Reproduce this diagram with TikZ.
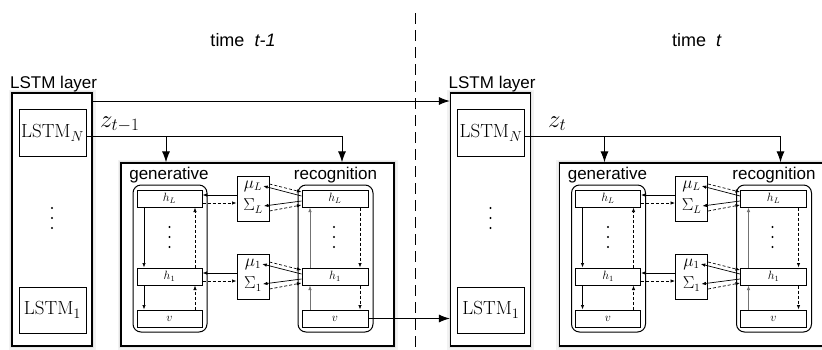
\documentclass[tikz,border=0pt]{standalone}
\usepackage{fontspec}
\newfontfamily\sans{Liberation Sans}
\usetikzlibrary{arrows.meta,calc}
\tikzset{
  lbl/.style={font=\sans\fontsize{17}{17}\selectfont, inner sep=0pt},
  halo/.style={preaction={draw=black,opacity=0.05,line width=7pt},
               preaction={draw=black,opacity=0.06,line width=3.5pt}},
  bigbox/.style={draw, line width=1.2pt, fill=white, inner sep=0pt},
  lstmbox/.style={draw, line width=1pt, fill=white, inner sep=0pt, minimum width=67pt, font=\fontsize{19}{19}\selectfont},
  hbox/.style={draw, line width=1pt, fill=white, inner sep=0pt, minimum height=17pt, font=\fontsize{11.5}{11.5}\selectfont},
  col/.style={draw, line width=1pt, rounded corners=8pt, inner sep=0pt, minimum width=74pt, minimum height=147pt},
  mbox/.style={draw, line width=1pt, fill=white, inner sep=0pt, minimum width=32pt, minimum height=45pt},
  msym/.style={inner sep=1pt, font=\fontsize{16}{16}\selectfont},
  ar/.style={-{Latex[length=4.5pt,width=3.5pt]}, line width=0.7pt},
  dar/.style={ar, dash pattern=on 3pt off 2pt},
  bigar/.style={-{Latex[length=11pt,width=8pt]}, line width=1pt},
  dotc/.style={fill=black, circle, inner sep=0pt, minimum size=2.4pt}
}
\begin{document}
\begin{tikzpicture}[x=1pt,y=-1pt]
\useasboundingbox (0,0) rectangle (822,349);
\clip (0,0) rectangle (822,349);

% time labels and divider
\node[lbl, font=\sans\fontsize{18}{18}\selectfont] (tlab1) at (243,40) {time~~\textit{t-1}};
\node[lbl, font=\sans\fontsize{18}{18}\selectfont] (tlab2) at (697,40) {time~~\textit{t}};
\coordinate (divtop) at (415,13);
\coordinate (divbot) at (415,349);
\draw[line width=1pt, dash pattern=on 11pt off 6pt] (divtop) -- (divbot);

\foreach \p/\dx in {a/0,b/438.5} {
\begin{scope}[xshift=\dx pt]
  % LSTM layer
  \node[bigbox, halo, minimum width=80pt, minimum height=253pt] (\p-layer) at (52,219.5) {};
  \node[lbl, anchor=base west] (\p-laylab) at (10,88) {LSTM layer};
  \node[lstmbox, minimum height=47pt] (\p-lN) at (52.5,132.5) {$\mathrm{LSTM}_N$};
  \node[lstmbox, minimum height=46pt] (\p-l1) at (52.5,310) {$\mathrm{LSTM}_1$};
  \foreach \yy in {208,218,228} \node[dotc] at (52,\yy) {};

  % big VAE box
  \node[bigbox, halo, minimum width=273pt, minimum height=183pt] (\p-big) at (257.5,254.5) {};
  \node[lbl, anchor=base] (\p-genlab) at (169,179) {generative};
  \node[lbl, anchor=base] (\p-reclab) at (335.5,179) {recognition};

  % columns
  \node[col] (\p-gcol) at (170,258.5) {};
  \node[col, minimum width=75pt] (\p-rcol) at (335.5,258.5) {};

  % generative boxes
  \node[hbox, minimum width=65pt] (\p-gL) at (169.5,198.5) {$h_L$};
  \node[hbox, minimum width=65pt] (\p-g1) at (169.5,276.5) {$h_1$};
  \node[hbox, minimum width=65pt] (\p-gv) at (169.5,318.5) {$v$};
  % recognition boxes
  \node[hbox, minimum width=66pt] (\p-rL) at (335,198.5) {$h_L$};
  \node[hbox, minimum width=66pt] (\p-r1) at (335,276.5) {$h_1$};
  \node[hbox, minimum width=66pt] (\p-rv) at (335,318.5) {$v$};
  \foreach \yy in {227,237,247} {
    \node[dotc] at (169.5,\yy) {};
    \node[dotc] at (334,\yy) {};
  }

  % mu / Sigma boxes
  \node[mbox] (\p-mL) at (253,198.5) {};
  \node[msym] (\p-muL) at (253,186) {$\mu_L$};
  \node[msym] (\p-sL) at (253,206) {$\Sigma_L$};
  \node[mbox] (\p-m1) at (253,276.5) {};
  \node[msym] (\p-mu1) at (253,264) {$\mu_1$};
  \node[msym] (\p-s1) at (253,284) {$\Sigma_1$};

  % z line and branches
  \coordinate (\p-zs) at (\p-lN.east |- 0,136);
  \coordinate (\p-zg) at (166,136);
  \coordinate (\p-zr) at (342,136);
  \draw[line width=1pt] (\p-zs) -- (\p-zr);
  \draw[bigar] (\p-zg) -- (\p-zg |- \p-big.north);
  \draw[bigar] (\p-zr) -- (\p-zr |- \p-big.north);

  % generative vertical arrows
  \draw[ar] (\p-gL.south -| 144,0) -- (\p-g1.north -| 144,0);
  \draw[ar] (\p-g1.south -| 144,0) -- (\p-gv.north -| 144,0);
  \draw[dar] (\p-gv.north -| 195,0) -- (\p-g1.south -| 195,0);
  \draw[dar] (\p-g1.north -| 195,0) -- (\p-gL.south -| 195,0);
  % recognition vertical arrows
  \draw[ar, black!55] (\p-rv.north -| 310,0) -- (\p-r1.south -| 310,0);
  \draw[ar, black!55] (\p-r1.north -| 310,0) -- (\p-rL.south -| 310,0);
  \draw[dar] (\p-rL.south -| 360,0) -- (\p-r1.north -| 360,0);
  \draw[dar] (\p-r1.south -| 360,0) -- (\p-rv.north -| 360,0);

  % generative <-> mu/Sigma
  \draw[ar] (\p-mL.west |- 0,195) -- (\p-gL.east |- 0,195);
  \draw[dar] (\p-gL.east |- 0,203) -- (\p-mL.west |- 0,203);
  \draw[ar] (\p-m1.west |- 0,273) -- (\p-g1.east |- 0,273);
  \draw[dar] (\p-g1.east |- 0,281) -- (\p-m1.west |- 0,281);

  % recognition <-> mu/Sigma (level L)
  \draw[dar] (\p-mL.east |- 0,184) -- (\p-rL.west |- 0,192);
  \draw[ar] (\p-rL.west |- 0,196) -- (\p-muL.east);
  \draw[ar] (\p-rL.west |- 0,201) -- (\p-sL.east);
  \draw[dar] (\p-mL.east |- 0,211) -- (\p-rL.west |- 0,205);
  % level 1
  \draw[dar] (\p-m1.east |- 0,262) -- (\p-r1.west |- 0,270);
  \draw[ar] (\p-r1.west |- 0,274) -- (\p-mu1.east);
  \draw[ar] (\p-r1.west |- 0,279) -- (\p-s1.east);
  \draw[dar] (\p-m1.east |- 0,289) -- (\p-r1.west |- 0,283);
\end{scope}
}

% z labels
\node[anchor=base west, inner sep=0pt, font=\fontsize{24}{24}\selectfont] (za) at (100,127) {$z_{t-1}$};
\node[anchor=base west, inner sep=0pt, font=\fontsize{24}{24}\selectfont] (zb) at (548,127) {$z_{t}$};

% connections between time steps
\coordinate (lay-s) at (a-layer.east |- 0,101);
\draw[bigar] (lay-s) -- (lay-s -| b-layer.west);
\draw[bigar] (a-rv.east) -- (a-rv.east -| b-layer.west);
\end{tikzpicture}
\end{document}
